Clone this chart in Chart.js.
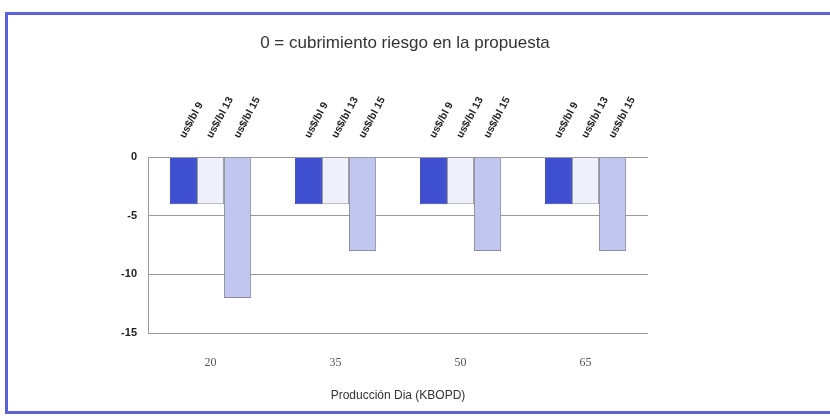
<!DOCTYPE html>
<html lang="es">
  <head>
    <meta charset="UTF-8" />
    <script src="https://cdn.jsdelivr.net/npm/chart.js"></script>
    <title>Cubrimiento riesgo</title>
    <style>
      html, body { margin: 0; padding: 0; background: #ffffff; }
      .marco {
        position: absolute; left: 5px; top: 12px; width: 840px; height: 396px;
        border-left: 3px solid #5a62d6; border-top: 3px solid #5a62d6; border-bottom: 3px solid #5a62d6;
      }
      .caja { position: absolute; left: 0; top: 0; width: 830px; height: 417px; }
    </style>
  </head>
  <body>
    <div class="marco"></div>
    <div class="caja"><canvas id="grafico"></canvas></div>

    <script>
      // datos
      var categorias = ["20", "35", "50", "65"];
      var series = ["us$/bl 9", "us$/bl 13", "us$/bl 15"];
      var valores9 = [-4, -4, -4, -4];
      var valores13 = [-4, -4, -4, -4];
      var valores15 = [-12, -8, -8, -8];
      var ticksY = [0, -5, -10, -15];

      // etiquetas giradas encima de cada barra
      var etiquetasBarras = {
        id: "etiquetasBarras",
        afterDatasetsDraw: function (chart) {
          var ctx = chart.ctx;
          var top = chart.chartArea.top;
          ctx.save();
          ctx.font = "bold 10.5px 'Liberation Sans', Arial, sans-serif";
          ctx.fillStyle = "#222";
          ctx.textAlign = "left";
          ctx.textBaseline = "middle";
          chart.data.datasets.forEach(function (ds, i) {
            chart.getDatasetMeta(i).data.forEach(function (bar) {
              ctx.save();
              ctx.translate(bar.x - 1, top - 20);
              ctx.rotate((-62 * Math.PI) / 180);
              ctx.fillText(ds.label, 0, 0);
              ctx.restore();
            });
          });
          ctx.restore();
        },
      };

      var grafico = new Chart(document.getElementById("grafico"), {
        type: "bar",
        data: {
          labels: categorias,
          datasets: [
            { label: series[0], data: valores9, backgroundColor: "#3e4fcf", borderColor: "#3444b8", borderWidth: 1 },
            { label: series[1], data: valores13, backgroundColor: "#eef0fb", borderColor: "#999", borderWidth: 1 },
            { label: series[2], data: valores15, backgroundColor: "#c0c6f0", borderColor: "#8a8a9a", borderWidth: 1 },
          ],
        },
        plugins: [etiquetasBarras],
        options: {
          responsive: true,
          maintainAspectRatio: false,
          animation: false,
          layout: { padding: { left: 0, right: 20, top: 0, bottom: 0 } },
          datasets: { bar: { barPercentage: 1, categoryPercentage: 0.65 } },
          plugins: {
            legend: { display: false },
            tooltip: { enabled: false },
            title: {
              display: true,
              text: "0 = cubrimiento riesgo en la propuesta",
              color: "#333",
              font: { family: "'Liberation Sans', Arial, sans-serif", size: 17, weight: "normal" },
              padding: { top: 33, bottom: 104 },
            },
          },
          scales: {
            x: {
              grid: { display: false },
              border: { display: false },
              ticks: {
                color: "#555",
                padding: 15,
                font: { family: "'Liberation Serif', 'Times New Roman', serif", size: 12 },
              },
              title: {
                display: true,
                text: "Producción Dia (KBOPD)",
                color: "#333",
                font: { family: "'Liberation Sans', Arial, sans-serif", size: 12 },
                padding: { top: 18, bottom: 14 },
              },
              afterFit: function (scale) { scale.height = 84; },
            },
            y: {
              min: -15,
              max: 0,
              afterBuildTicks: function (scale) {
                scale.ticks = ticksY.map(function (v) { return { value: v }; });
              },
              grid: { color: "#999", lineWidth: 1, drawTicks: false },
              border: { display: true, color: "#999" },
              ticks: {
                color: "#222",
                padding: 11,
                font: { family: "'Liberation Sans', Arial, sans-serif", size: 11, weight: "bold" },
              },
              afterFit: function (scale) { scale.width = 148; },
            },
            // eje vacio a la derecha para dejar el margen del original
            yDerecho: {
              position: "right",
              min: -15,
              max: 0,
              grid: { display: false },
              border: { display: false },
              ticks: { display: false },
              afterFit: function (scale) { scale.width = 162; },
            },
          },
        },
      });
    </script>
  </body>
</html>
